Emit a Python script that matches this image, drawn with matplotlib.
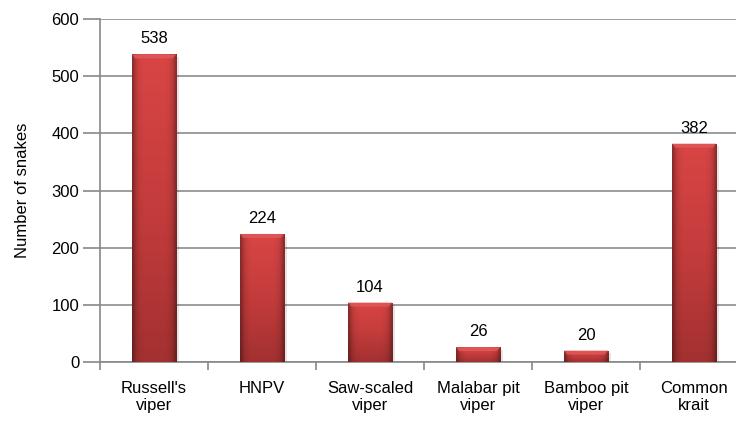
import numpy as np
import matplotlib
matplotlib.use("Agg")
import matplotlib.pyplot as plt
from matplotlib.colors import LinearSegmentedColormap

plt.rcParams['font.family'] = ['Liberation Sans', 'DejaVu Sans']

species = ["Russell's\nviper", "HNPV", "Saw-scaled\nviper", "Malabar pit\nviper",
           "Bamboo pit\nviper", "Common\nkrait"]
counts = [538, 224, 104, 26, 20, 382]

W, H = 736, 426
fig = plt.figure(figsize=(W / 100, H / 100), dpi=100)
# plot area runs a little past the right edge, like the cropped original
ax = fig.add_axes([100 / W, 1 - 362 / H, 648 / W, (362 - 19) / H])

x = np.arange(len(species))
bw = 0.41
bars = ax.bar(x, counts, width=bw, color='#c53a3a', zorder=3)

grad = LinearSegmentedColormap.from_list('r', ['#a33131', '#c43c3c', '#d94545'])
# darkening towards left/right edges of each bar
shade = np.zeros((1, 20, 4))
shade[0, :, 3] = np.clip(np.abs(np.linspace(-1, 1, 20)) ** 6 * 0.35, 0, 0.35)

for b in bars:
    x0, y0 = b.get_x(), b.get_y()
    w, h = b.get_width(), b.get_height()
    # soft shadow
    ax.bar(x0 + w / 2 + 0.015, h, width=w + 0.03, bottom=-5, color='#000000',
           alpha=0.10, zorder=2)
    img = np.linspace(0, 1, 100).reshape(-1, 1)
    im = ax.imshow(img, extent=(x0, x0 + w, y0, y0 + h), origin='lower',
                   cmap=grad, aspect='auto', zorder=3.5)
    im.set_clip_path(b)
    ed = ax.imshow(shade, extent=(x0, x0 + w, y0, y0 + h), aspect='auto',
                   zorder=3.6, interpolation='bilinear')
    ed.set_clip_path(b)
    # lighter bevel on top
    cap = min(7, h * 0.35)
    ax.fill([x0, x0 + w, x0 + w - 0.03, x0 + 0.03],
            [y0 + h, y0 + h, y0 + h - cap, y0 + h - cap],
            color='#e25a5a', alpha=0.8, zorder=3.7, lw=0)
    ax.text(x0 + w / 2, h + 14, str(int(h)), ha='center', va='bottom',
            fontsize=12, color='#000000')

ax.set_xlim(-0.5, len(species) - 0.5)
ax.set_ylim(0, 600)
ax.set_yticks(range(0, 601, 100))
ax.set_xticks(x)
ax.set_xticklabels(species, fontsize=12, linespacing=1.15)
ax.set_xticks(np.arange(-0.5, len(species), 1.0), minor=True)
ax.tick_params(axis='x', which='major', length=0, pad=14)
ax.tick_params(axis='x', which='minor', length=6, color='#888888', width=1.2)
ax.tick_params(axis='y', length=12, color='#888888', width=1.2, labelsize=12, pad=3)

ax.grid(axis='y', color='#8c8c8c', linewidth=1.2, zorder=0)
ax.set_axisbelow(True)
for s in ['top', 'right']:
    ax.spines[s].set_visible(False)
for s in ['left', 'bottom']:
    ax.spines[s].set_color('#888888')
    ax.spines[s].set_linewidth(1.2)

ax.set_ylabel("Number of snakes", fontsize=12)
ax.yaxis.set_label_coords(-70 / 648, 0.5)

fig.savefig("out.png", dpi=100)
